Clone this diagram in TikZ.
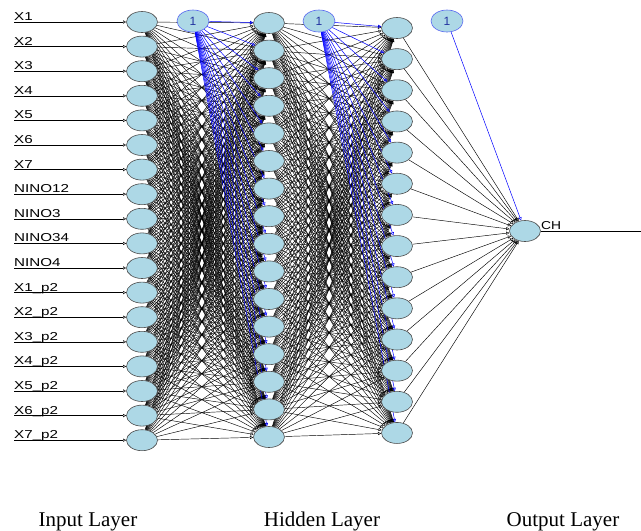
\documentclass[tikz,border=0pt]{standalone}
\usepackage{fontspec}
\setmainfont{Liberation Serif}
\setsansfont{Liberation Sans}
\usetikzlibrary{shapes.geometric,arrows.meta}
\pgfdeclarelayer{edges}
\pgfsetlayers{edges,main}
\definecolor{unitfill}{HTML}{ADD8E6}
\definecolor{biasedge}{HTML}{5A6AF0}
\definecolor{biastext}{HTML}{2232A0}
\newcommand{\stretchlabel}[1]{\scalebox{1.32}[1]{#1}}

\begin{document}
\begin{tikzpicture}[x=1pt,y=-1pt,
  unit/.style={ellipse, draw=black!70, fill=unitfill, minimum width=31pt,
    minimum height=21pt, inner sep=0pt, line width=0.6pt},
  biasunit/.style={unit, draw=biasedge, text=biastext, minimum width=32pt,
    minimum height=22pt, font=\sffamily\fontsize{12}{12}\selectfont},
  wire/.style={draw=black, line width=0.45pt,
    -{Triangle[open,length=3.2pt,width=3.2pt]}},
  biaswire/.style={draw=blue, line width=0.5pt,
    -{Triangle[open,length=3.2pt,width=3.2pt]}},
  inlabel/.style={font=\sffamily\fontsize{11.5}{11.5}\selectfont, anchor=base west,
    inner sep=0pt},
  layerlabel/.style={font=\fontsize{21}{21}\selectfont, anchor=base, inner sep=0pt}
]
\useasboundingbox (0,0) rectangle (641,531);

% input units with their labels and feeding arrows
\foreach \lab [count=\i] in {X1,X2,X3,X4,X5,X6,X7,NINO12,NINO3,NINO34,NINO4,
    X1\_p2,X2\_p2,X3\_p2,X4\_p2,X5\_p2,X6\_p2,X7\_p2} {
  \pgfmathsetmacro\yy{22+24.6*(\i-1)}
  \node[unit] (in\i) at (142,\yy) {};
  \coordinate (src\i) at (14,\yy);
  \node[inlabel] (lab\i) at (14,\yy-1.5) {\stretchlabel{\lab}};
}

% first hidden layer
\foreach \j in {1,...,16} {
  \pgfmathsetmacro\yy{23+27.6*(\j-1)}
  \node[unit] (ha\j) at (269,\yy) {};
}

% second hidden layer
\foreach \k in {1,...,14} {
  \pgfmathsetmacro\yy{28+31.15*(\k-1)}
  \node[unit] (hb\k) at (397,\yy) {};
}

% output unit
\node[unit] (out) at (525,231) {};
\coordinate (outend) at (641,231);
\node[inlabel] (outlab) at (541,229) {\scalebox{1.2}[1]{CH}};

% bias units
\node[biasunit] (b1) at (193,21) {1};
\node[biasunit] (b2) at (319,21) {1};
\node[biasunit] (b3) at (447,21) {1};

% connections
\begin{pgfonlayer}{edges}
  \foreach \i in {1,...,18} {
    \draw[wire] (src\i) -- (in\i);
    \foreach \j in {1,...,16} \draw[wire] (in\i) -- (ha\j);
  }
  \foreach \j in {1,...,16} {
    \foreach \k in {1,...,14} \draw[wire] (ha\j) -- (hb\k);
  }
  \foreach \k in {1,...,14} \draw[wire] (hb\k) -- (out);
  \foreach \j in {1,...,16} \draw[biaswire] (b1) -- (ha\j);
  \foreach \k in {1,...,14} \draw[biaswire] (b2) -- (hb\k);
  \draw[biaswire] (b3) -- (out);
  \draw[draw=black, line width=0.5pt] (out) -- (outend);
\end{pgfonlayer}

% layer captions
\node[layerlabel] (capin) at (88,526) {Input Layer};
\node[layerlabel] (caphid) at (322,526) {Hidden Layer};
\node[layerlabel] (capout) at (563,526) {Output Layer};
\end{tikzpicture}
\end{document}
